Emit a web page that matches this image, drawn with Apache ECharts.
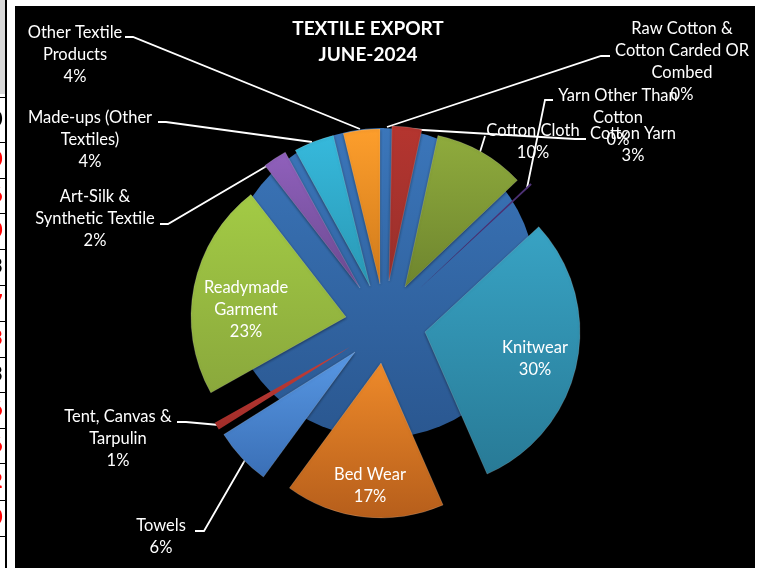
<!DOCTYPE html>
<html><head><meta charset="utf-8">
<style>html,body{margin:0;padding:0;background:#fff}#c{width:761px;height:568px}</style>
<script src="https://cdn.jsdelivr.net/npm/echarts@6/dist/echarts.min.js"></script>
</head><body><div id="c"></div>
<script>
// ---- data ----
const categories = ['Raw Cotton &\nCotton Carded OR\nCombed','Cotton Yarn','Cotton Cloth','Yarn Other Than\nCotton','Knitwear','Bed Wear','Towels','Tent, Canvas &\nTarpulin','Readymade\nGarment','Art-Silk &\nSynthetic Textile','Made-ups (Other\nTextiles)','Other Textile\nProducts'];
const values = [0.3,3.1,9.5,0.2,30.3,16.6,6.0,0.8,22.6,2.5,4.2,3.8];
const sideDigits = ['0','0','6','0','3','7','3','3','6','6','2','0'];
const sideDigitColors = ['#000','#f00','#f00','#f00','#000','#f00','#f00','#000','#f00','#f00','#f00','#f00'];

// ---- layout and style ----
const R = 155;
const sliceCenters = [[381,283],[389,281],[405,287],[418,290],[425,332],[381,363],[355,352],[350,347],[346,317],[360,288],[370,286],[380,284]];
const sliceColors = [['#3b76ba','#3a72b4'],['#b5352f','#98302c'],['#8fab3d','#6e852e'],['#4f3278','#3f2763'],['#38a3c4','#287a96'],['#ee8a2a','#b65e1b'],['#5898e4','#3a6fb6'],['#c8403a','#a02c28'],['#a3cb45','#8aa83c'],['#9060bc','#6b4a90'],['#36b9dc','#2a98b4'],['#fd9e2c','#cf7a1b']];
const thin = [true,false,false,true,false,false,false,true,false,false,false,false];
const labelPos = [[682,62],[633,145],[533,142],[618,118],[535,359],[370,486],[161,537],[118,439],[246,310],[95,219],[90,140],[75,55]];
const leaders = [
 [[387,127],[601,56],[610,56]],
 [[406,129],[575,139],[586,139]],
 [[480,152],[485,136]],
 [[527,188],[545,100],[553,100]],
 null,null,
 [[245,460],[204,531],[195,531]],
 [[219,425],[186,422],[177,422]],
 null,
 [[277,160],[168,224],[160,224]],
 [[312,142],[166,122],[158,122]],
 [[360,129],[133,37],[125,37]]
];
const rowLines = [97,142,178,213,249,285,321,357,392,428,463,500,536];
const FONT = 'Lato, Carlito, "Open Sans", sans-serif';
const grad = (a,b)=>({type:'linear',x:0,y:0,x2:0,y2:1,colorStops:[{offset:0,color:a},{offset:1,color:b}]});
const clear = 'rgba(0,0,0,0)';

const sliceSeries = categories.map((_, i) => ({
  type:'pie', center:sliceCenters[i], radius:[0,R], startAngle:90, clockwise:true,
  z:3, silent:true, animation:false, percentPrecision:0, avoidLabelOverlap:false,
  label:{show:false}, labelLine:{show:false},
  labelLayout:p => {
    if (p.dataIndex !== i) return {};
    const o = {x:labelPos[i][0], y:labelPos[i][1], align:'center', verticalAlign:'middle'};
    if (leaders[i]) o.labelLinePoints = leaders[i];
    return o;
  },
  data: categories.map((name, j) => j === i ? {
    name, value:values[j],
    itemStyle:{color:grad(sliceColors[i][0],sliceColors[i][1]),borderWidth:thin[i]?0:1,borderColor:'rgba(255,255,255,0.16)',borderJoin:'bevel',shadowColor:'rgba(0,0,0,0.5)',shadowBlur:thin[i]?0:3,shadowOffsetY:thin[i]?0:1},
    label:{show:true,position:'outside',formatter:'{b}\n{d}%',color:'#fff',fontFamily:FONT,fontSize:16.5,lineHeight:22,align:'center'},
    labelLine:{show:!!leaders[i],lineStyle:{color:'#fff',width:1.8},smooth:false}
  } : {name, value:values[j], itemStyle:{color:clear,borderWidth:0}, label:{show:false}, labelLine:{show:false}})
}));

const baseDisc = {type:'pie',center:[381,283],radius:[0,R],silent:true,animation:false,z:2,label:{show:false},labelLine:{show:false},
  data:[{value:1,name:'base',itemStyle:{color:grad('#3b76ba','#2a5790'),shadowColor:'rgba(0,0,0,0.6)',shadowBlur:3}}]};

const gfx = [
  {type:'rect',z:-10,shape:{x:15,y:6,width:740,height:562},style:{fill:'#000'}},
  {type:'rect',z:-9,shape:{x:0,y:0,width:5,height:94},style:{fill:'#d9d9d9'}},
  {type:'rect',z:-9,shape:{x:5,y:0,width:2,height:568},style:{fill:'#000'}}
];
rowLines.forEach(y=>gfx.push({type:'rect',z:-8,shape:{x:0,y,width:5,height:1},style:{fill:'#000'}}));
sideDigits.forEach((d,k)=>{
  const y = (rowLines[k]+rowLines[k+1])/2;
  gfx.push({type:'text',z:-8,style:{x:-9,y,text:d,fill:sideDigitColors[k],font:'bold 20px '+FONT,textVerticalAlign:'middle'}});
});

const chart = echarts.init(document.getElementById('c'),null,{renderer:'canvas'});
chart.setOption({
  backgroundColor:'#fff', animation:false,
  title:{text:'TEXTILE EXPORT\nJUNE-2024',left:363,top:11,textAlign:'center',textStyle:{color:'#fff',fontFamily:FONT,fontWeight:'bold',fontSize:19,lineHeight:26}},
  graphic:gfx,
  series:[baseDisc,...sliceSeries]
});
</script></body></html>
